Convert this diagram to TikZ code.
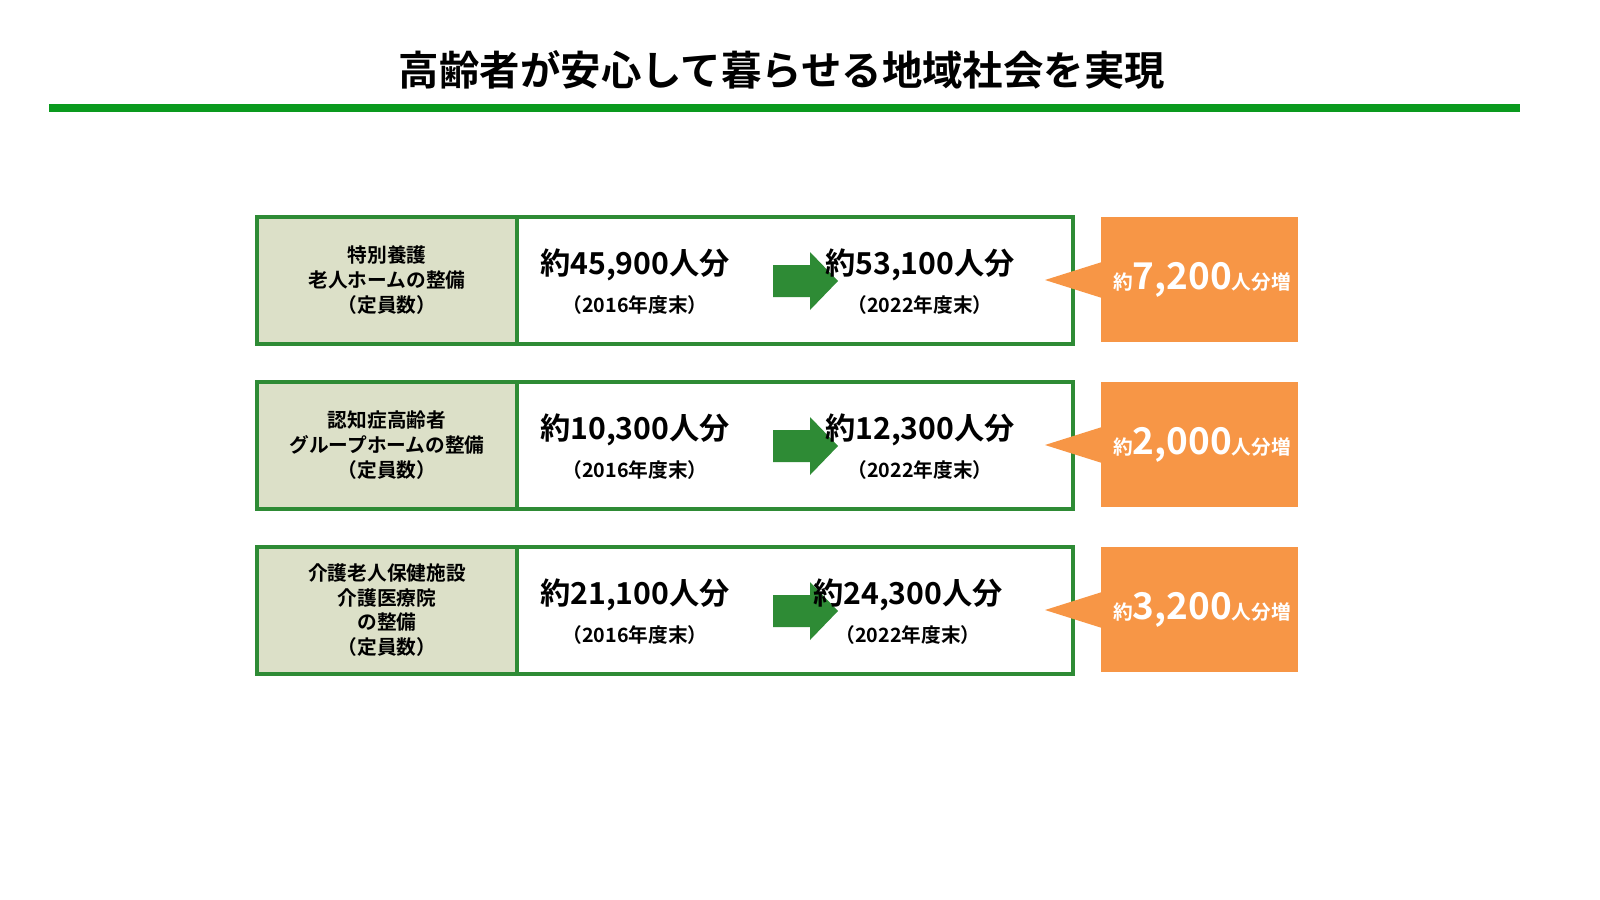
\documentclass[tikz,border=0pt]{standalone}
\usepackage{fontspec}
\setmainfont{Noto Sans CJK JP}[BoldFont={Noto Sans CJK JP Bold}]
\usetikzlibrary{positioning,calc}
\definecolor{frame}{HTML}{2E8B35}
\definecolor{cell}{HTML}{DCE0C8}
\definecolor{gain}{HTML}{F79646}
\definecolor{bar}{HTML}{0A9A1E}

% one row: top y, label, 2016 count, 2022 count, gain, x of 2022 text
\newcommand{\careRow}[6]{%
    \fill[cell] (257,#1) rectangle (517,#1+127);
    \draw[frame, line width=1.4pt] (257,#1) rectangle (1073,#1+127);
    \draw[frame, line width=1.4pt] (517,#1) -- (517,#1+127);
    \node[label node] at (387,#1+63) {#2};
    \node[count node] at (635,#1+48) {約#3人分};
    \node[year node] at (635,#1+88) {（2016年度末）};
    \fill[frame] (773,#1+48) -- (810,#1+48) -- (810,#1+35) -- (838,#1+64)
        -- (810,#1+93) -- (810,#1+80) -- (773,#1+80) -- cycle;
    \node[count node] at (#6,#1+48) {約#4人分};
    \node[year node] at (#6,#1+88) {（2022年度末）};
    \fill[gain] (1101,#1) rectangle (1298,#1+125);
    \fill[gain] (1045,#1+63) -- (1102,#1+45) -- (1102,#1+81) -- cycle;
    \node[text=white, font=\bfseries] at (1202,#1+63)
        {\fontsize{5.6}{7}\selectfont 約\fontsize{10.5}{12}\selectfont #5\fontsize{5.6}{7}\selectfont 人分増};
}

\begin{document}
\begin{tikzpicture}[x=0.01cm,y=-0.01cm,
    label node/.style={align=center, font=\bfseries\fontsize{5.6}{7}\selectfont},
    count node/.style={font=\bfseries\fontsize{8.6}{10}\selectfont},
    year node/.style={font=\bfseries\fontsize{5.6}{7}\selectfont}]

    \useasboundingbox (0,0) rectangle (1600,900);

    \node[font=\bfseries\fontsize{11.5}{13}\selectfont] (title) at (782,70) {高齢者が安心して暮らせる地域社会を実現};
    \fill[bar] (49,104) rectangle (1520,112);

    \careRow{217}{特別養護\\老人ホームの整備\\（定員数）}{45,900}{53,100}{7,200}{920}
    \careRow{382}{認知症高齢者\\グループホームの整備\\（定員数）}{10,300}{12,300}{2,000}{920}
    \careRow{547}{介護老人保健施設\\介護医療院\\の整備\\（定員数）}{21,100}{24,300}{3,200}{908}
\end{tikzpicture}
\end{document}
